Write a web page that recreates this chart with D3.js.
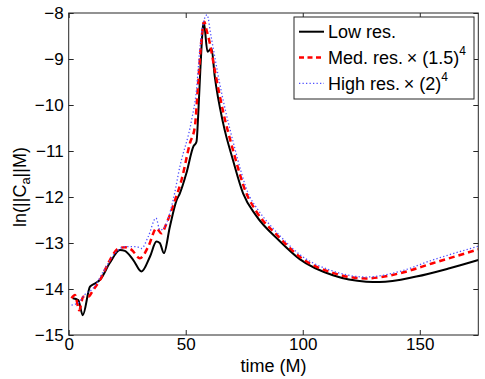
<!DOCTYPE html>
<html>
<head>
<meta charset="utf-8">
<script src="https://cdn.jsdelivr.net/npm/d3@7"></script>
<style>
  body { margin: 0; background: white; }
  svg { display: block; font-family: "Liberation Sans", Arial, sans-serif; }
</style>
</head>
<body>
<svg id="chart" width="485" height="379"></svg>
<script>
// values: [time (M), ln(||C_a|| M)]
const lowRes = [
  [1.7, -14.2], [4.1, -14.24], [6, -14.57], [9.1, -13.95], [11.2, -13.88], [13.4, -13.8],
  [17.6, -13.43], [21.9, -13.15], [24, -13.17], [27.6, -13.37], [31.1, -13.62],
  [34.7, -13.3], [37.5, -12.97], [38.9, -13.0], [40.7, -13.22], [43.2, -12.65],
  [46.1, -12.07], [47.5, -11.92], [50.3, -11.48], [53.2, -10.91], [54.6, -10.8],
  [55.3, -10.25], [56.3, -9.17], [57.7, -8.19], [59.3, -8.84], [61, -8.77],
  [62.4, -9.38], [66, -10.4], [70.2, -11.2], [74.5, -11.92], [80, -12.4],
  [90, -12.95], [98.7, -13.35], [112.9, -13.7], [127.1, -13.84], [132.8, -13.85],
  [148.5, -13.73], [162.7, -13.55], [175, -13.37]
];
const medRes = [
  [1.2, -14.2], [2.7, -14.13], [4.5, -14.46], [6.2, -14.17], [8.3, -14.17], [10.5, -14.02],
  [13.4, -13.8], [17.6, -13.37], [21.2, -13.12], [24, -13.09], [26.9, -13.15],
  [30.4, -13.33], [34, -13.08], [37.5, -12.68], [39.6, -12.79], [41.8, -12.57],
  [45.4, -12.07], [48.2, -11.63], [51.8, -10.83], [53.9, -10.47], [55.3, -9.53],
  [56.7, -8.59], [57.9, -8.19], [58.9, -8.37], [60.3, -8.66], [62.4, -9.24],
  [66, -10.15], [70.2, -10.98], [75.9, -11.92], [80, -12.3], [90, -12.88],
  [98.7, -13.3], [112.9, -13.65], [127, -13.77], [141.3, -13.66], [155.5, -13.44],
  [175, -13.14]
];
const highRes = [
  [1.2, -14.35], [4.1, -14.3], [6.9, -14.12], [10.5, -13.98], [14.8, -13.62],
  [19.8, -13.22], [24, -13.08], [29, -13.08], [31.1, -13.12], [34, -12.86],
  [37.3, -12.46], [39, -12.72], [41, -12.65], [44.6, -12.07], [47.5, -11.34],
  [52.5, -10.33], [54.6, -9.67], [56, -8.8], [57.6, -8.2], [59.1, -8.04],
  [60.8, -8.5], [64.5, -9.53], [70.5, -10.85], [77.3, -11.99], [80.5, -12.25],
  [90, -12.83], [98.7, -13.25], [112.9, -13.61], [127, -13.74], [141.3, -13.62],
  [155.5, -13.37], [175, -13.07]
];
const xTicks = [0, 50, 100, 150];
const yTicks = [-15, -14, -13, -12, -11, -10, -9, -8];

const svg = d3.select("#chart");
const m = {left: 68.7, right: 478.3, top: 13, bottom: 335};
const x = d3.scaleLinear().domain([0, 175]).range([m.left, m.right]);
const y = d3.scaleLinear().domain([-15, -8]).range([m.bottom, m.top]);

svg.append("clipPath").attr("id", "clip")
  .append("rect").attr("x", m.left).attr("y", m.top)
  .attr("width", m.right - m.left).attr("height", m.bottom - m.top);

const line = d3.line().x(d => x(d[0])).y(d => y(d[1])).curve(d3.curveMonotoneX);

const plot = svg.append("g").attr("clip-path", "url(#clip)");
plot.append("path").datum(lowRes).attr("d", line)
  .attr("fill", "none").attr("stroke", "black").attr("stroke-width", 2);
plot.append("path").datum(medRes).attr("d", line)
  .attr("fill", "none").attr("stroke", "#ff0000").attr("stroke-width", 2.5)
  .attr("stroke-dasharray", "6,4");
plot.append("path").datum(highRes).attr("d", line)
  .attr("fill", "none").attr("stroke", "#5050ff").attr("stroke-width", 1.3)
  .attr("stroke-dasharray", "1.3,2.2");

// axes, ticks inside on all four sides
const tickLen = 5;
const axisCol = "#262626";
const axisBottom = d3.axisBottom(x).tickValues(xTicks).tickSizeInner(-tickLen).tickSizeOuter(0).tickPadding(3);
const axisTop = d3.axisTop(x).tickValues(xTicks).tickSizeInner(-tickLen).tickSizeOuter(0).tickFormat("");
const axisLeft = d3.axisLeft(y).tickValues(yTicks).tickSizeInner(-tickLen).tickSizeOuter(0).tickPadding(5)
  .tickFormat(d => d3.format("")(d).replace("-", "\u2212"));
const axisRight = d3.axisRight(y).tickValues(yTicks).tickSizeInner(-tickLen).tickSizeOuter(0).tickFormat("");

function styleAxis(g) {
  g.select(".domain").remove();
  g.selectAll("line").attr("stroke", axisCol);
  g.selectAll("text").attr("fill", "black").attr("font-size", 17).attr("font-family", null);
}
svg.append("g").attr("transform", `translate(0,${m.bottom})`).call(axisBottom).call(styleAxis);
svg.append("g").attr("transform", `translate(0,${m.top})`).call(axisTop).call(styleAxis);
svg.append("g").attr("transform", `translate(${m.left},0)`).call(axisLeft).call(styleAxis);
svg.append("g").attr("transform", `translate(${m.right},0)`).call(axisRight).call(styleAxis);

svg.append("rect").attr("x", m.left).attr("y", m.top)
  .attr("width", m.right - m.left).attr("height", m.bottom - m.top)
  .attr("fill", "none").attr("stroke", axisCol).attr("stroke-width", 1);

svg.append("text").attr("x", (m.left + m.right) / 2).attr("y", 372)
  .attr("text-anchor", "middle").attr("font-size", 18).text("time (M)");

const yl = svg.append("text").attr("transform", "translate(26,187) rotate(-90)")
  .attr("text-anchor", "middle").attr("font-size", 18);
yl.append("tspan").text("ln(||C");
yl.append("tspan").attr("font-size", 13).attr("dy", 4).text("a");
yl.append("tspan").attr("dy", -4).text("||M)");

// legend
const lg = svg.append("g");
lg.append("rect").attr("x", 294).attr("y", 17).attr("width", 180).attr("height", 82)
  .attr("fill", "white").attr("stroke", axisCol).attr("stroke-width", 1);
const legendItems = [
  {stroke: "black", w: 2, dash: null, label: "Low res.", sup: null},
  {stroke: "#ff0000", w: 2.5, dash: "5,3.5", label: "Med. res.\u2009\u00d7 (1.5)", sup: "4"},
  {stroke: "#5050ff", w: 1.3, dash: "1.3,2.2", label: "High res.\u2009\u00d7 (2)", sup: "4"}
];
legendItems.forEach((it, i) => {
  const cy = 31.7 + i * 25.8;
  lg.append("line").attr("x1", 299).attr("x2", 324).attr("y1", cy).attr("y2", cy)
    .attr("stroke", it.stroke).attr("stroke-width", it.w).attr("stroke-dasharray", it.dash);
  const t = lg.append("text").attr("x", 328).attr("y", cy + 6.5).attr("font-size", 18);
  t.append("tspan").text(it.label);
  if (it.sup) t.append("tspan").attr("font-size", 12).attr("dy", -9).text(it.sup);
});
</script>
</body>
</html>
